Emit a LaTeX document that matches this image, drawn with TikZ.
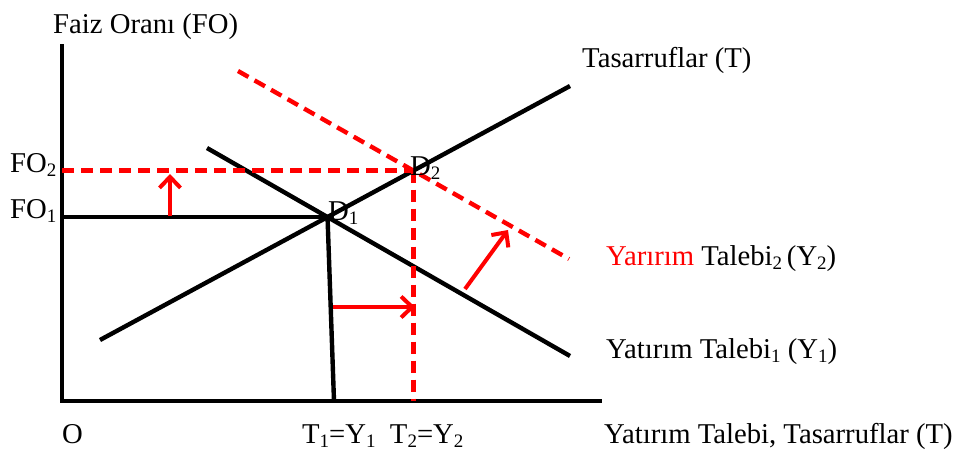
\documentclass[tikz,border=0pt]{standalone}
\usepackage{fontspec}
\setmainfont{Liberation Serif}
\usetikzlibrary{arrows.meta}
\newcommand{\lowidx}[1]{\raisebox{-4.5pt}{\fontsize{19}{19}\selectfont #1}}
\tikzset{
  axisline/.style={line width=4.5pt},
  curve/.style={line width=4.4pt},
  reddash/.style={line width=4.4pt, red, dash pattern=on 12pt off 7pt},
  redarrow/.style={line width=4pt, red, -{Straight Barb[length=11pt,width=21pt,line width=4pt]}},
  lbl/.style={inner sep=0pt, anchor=base west, font=\fontsize{28.7}{32}\selectfont}
}
\begin{document}
\begin{tikzpicture}[x=1pt,y=-1pt]
\useasboundingbox (0,0) rectangle (971,450);
% key points
\coordinate (O) at (62,401);
\coordinate (yTop) at (62,44);
\coordinate (xEnd) at (602,401);
\coordinate (tA) at (100,340);
\coordinate (tB) at (570,86);
\coordinate (yA) at (207,148);
\coordinate (yB) at (570,356);
\coordinate (rA) at (238,71);
\coordinate (rB) at (569,259);
\coordinate (D1) at (intersection of tA--tB and yA--yB);
\coordinate (D2) at (intersection of tA--tB and rA--rB);
\coordinate (fo1) at (O |- D1);
\coordinate (fo2) at (O |- D2);
\coordinate (t1) at (334,401);
\coordinate (t2) at (D2 |- O);
% axes
\draw[axisline, line cap=butt] (yTop) -- (O) -- (xEnd);
% curves
\draw[curve] (tA) -- (tB);
\draw[curve] (yA) -- (yB);
\draw[reddash] (rA) -- (rB);
% guides
\draw[curve] (fo1) -- (D1);
\draw[curve] (D1) -- (t1);
\draw[reddash] (fo2) -- (D2);
\draw[reddash] (D2) -- (t2);
% arrows
\coordinate (uA) at (170,216);
\coordinate (uB) at (170,174);
\coordinate (hA) at (333,307);
\coordinate (hB) at (415,307);
\coordinate (dA) at (465,289);
\coordinate (dB) at (508,230);
\draw[redarrow] (uA) -- (uB);
\draw[redarrow] (hA) -- (hB);
\draw[redarrow] (dA) -- (dB);
% labels
\node[lbl] (lFO) at (53,33) {Faiz Oranı (FO)};
\node[lbl] (lFO2) at (10,172) {FO\lowidx{2}};
\node[lbl] (lFO1) at (10,218) {FO\lowidx{1}};
\node[lbl] (lD2) at (410,175) {D\lowidx{2}};
\node[lbl] (lD1) at (328,220) {D\lowidx{1}};
\node[lbl] (lT) at (582,67) {Tasarruflar (T)};
\node[lbl] (lY2) at (606,265) {\textcolor{red}{Yarırım} Talebi\lowidx{2}\,(Y\lowidx{2})};
\node[lbl] (lY1) at (606,358) {Yatırım Talebi\lowidx{1} (Y\lowidx{1})};
\node[lbl] (lO) at (62,443) {O};
\node[lbl] (lTY) at (302,443) {T\lowidx{1}=Y\lowidx{1}\ \ T\lowidx{2}=Y\lowidx{2}};
\node[lbl] (lX) at (604,443) {Yatırım Talebi, Tasarruflar (T)};
\end{tikzpicture}
\end{document}
